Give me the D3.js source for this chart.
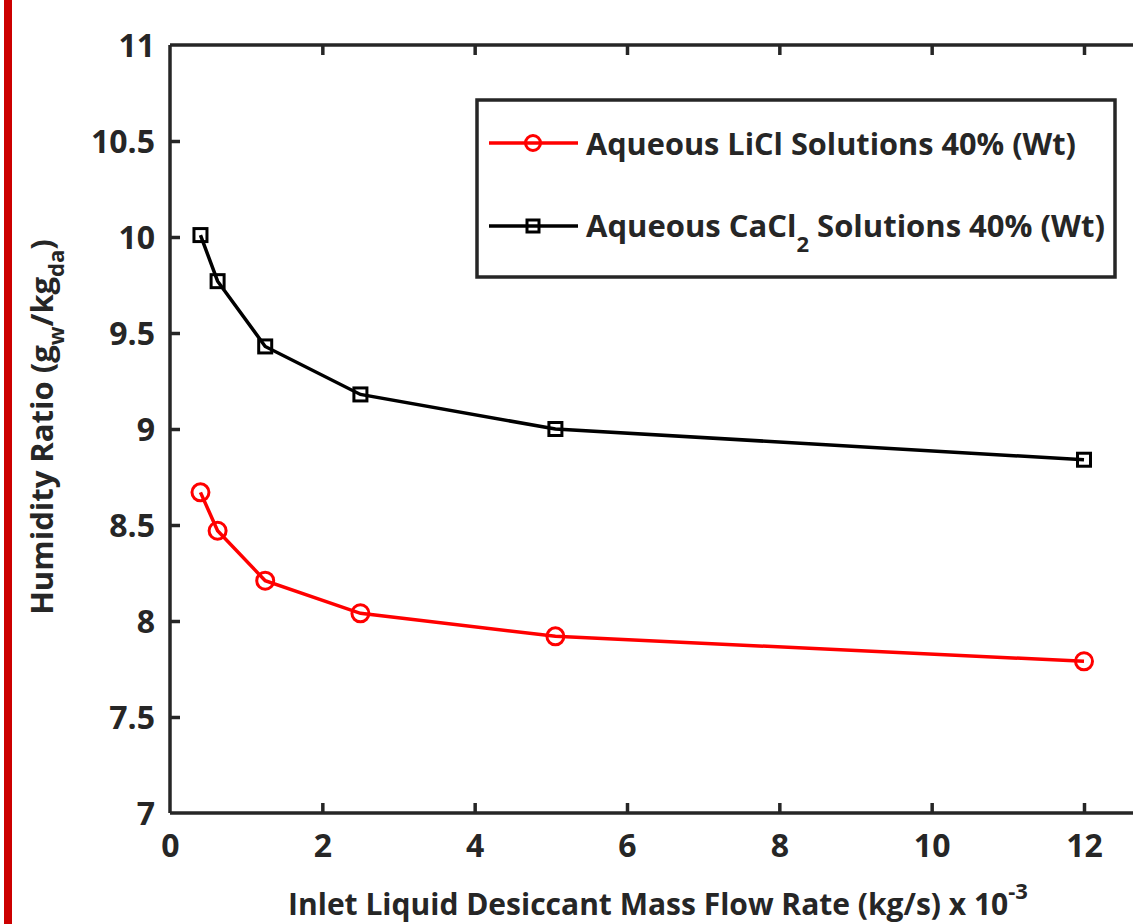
<!DOCTYPE html>
<html><head><meta charset="utf-8">
<script src="https://cdn.jsdelivr.net/npm/d3@7"></script>
<style>
html,body{margin:0;padding:0;background:#fff;overflow:hidden;}
text{font-family:"Open Sans",sans-serif;font-weight:700;fill:#262626;}
</style></head>
<body>
<svg id="chart" width="1133" height="924"></svg>
<script>
const flowRates = [0.4, 0.625, 1.25, 2.5, 5.06, 12];
const liclValues = [8.67, 8.47, 8.21, 8.04, 7.92, 7.79];
const cacl2Values = [10.01, 9.77, 9.43, 9.18, 9.00, 8.84];
const xTicks = [0, 2, 4, 6, 8, 10, 12];
const yTicks = [7, 7.5, 8, 8.5, 9, 9.5, 10, 10.5, 11];
const seriesNames = ["Aqueous LiCl Solutions 40% (Wt)", "Aqueous CaCl", "2", " Solutions 40% (Wt)"];

const svg = d3.select("#chart");
const axisColor = "#262626";
const x = d3.scaleLinear().domain([0, 13]).range([170, 170 + (1084 - 170) * 13 / 12]);
const y = d3.scaleLinear().domain([7, 11]).range([813, 45]);

// red border line
svg.append("rect").attr("x", 4).attr("y", 0).attr("width", 8).attr("height", 924).attr("fill", "#cc0000");

// axes
const tickLen = 10;
const gx = svg.append("g").attr("transform", `translate(0,${y(7)})`)
  .call(d3.axisBottom(x).tickValues(xTicks).tickSize(-tickLen).tickPadding(21).tickFormat(d3.format("d")));
const gxTop = svg.append("g").attr("transform", `translate(0,${y(11)})`)
  .call(d3.axisTop(x).tickValues(xTicks).tickSize(-tickLen).tickFormat(""));
const gy = svg.append("g").attr("transform", `translate(${x(0)},0)`)
  .call(d3.axisLeft(y).tickValues(yTicks).tickSize(-tickLen).tickPadding(15).tickFormat(d => d));
[gx, gxTop, gy].forEach(g => {
  g.select(".domain").attr("stroke", axisColor).attr("stroke-width", 3.5);
  g.selectAll(".tick line").attr("stroke", axisColor).attr("stroke-width", 3.5);
  g.selectAll(".tick text").style("font-size", "32px").attr("fill", axisColor);
});
gx.select(".domain").attr("d", `M${x(0)},0H${x(13)}`);
gxTop.select(".domain").attr("d", `M${x(0)},0H${x(13)}`);
gy.select(".domain").attr("d", `M0,${y(7)}V${y(11)}`);
gy.selectAll(".tick text").attr("dy", "0.36em");
gx.selectAll(".tick text").attr("dy", "0.72em");
gx.selectAll(".tick").filter(d => d === 0).select("line").remove();
gxTop.selectAll(".tick").filter(d => d === 0).select("line").remove();
gy.selectAll(".tick").filter(d => d === 7 || d === 11).select("line").remove();

// lines
const line = d3.line().x(d => x(d[0])).y(d => y(d[1]));
const licl = flowRates.map((f, i) => [f, liclValues[i]]);
const cacl = flowRates.map((f, i) => [f, cacl2Values[i]]);

svg.append("path").datum(cacl).attr("d", line).attr("fill", "none").attr("stroke", "#000").attr("stroke-width", 3.5);
svg.selectAll(".sq").data(cacl).enter().append("rect")
  .attr("x", d => x(d[0]) - 6.5).attr("y", d => y(d[1]) - 6.5).attr("width", 13).attr("height", 13)
  .attr("fill", "none").attr("stroke", "#000").attr("stroke-width", 3);

svg.append("path").datum(licl).attr("d", line).attr("fill", "none").attr("stroke", "#ff0000").attr("stroke-width", 3.5);
svg.selectAll(".ci").data(licl).enter().append("circle")
  .attr("cx", d => x(d[0])).attr("cy", d => y(d[1])).attr("r", 8.5)
  .attr("fill", "none").attr("stroke", "#ff0000").attr("stroke-width", 3);

// legend
const lg = svg.append("g");
lg.append("rect").attr("x", 477).attr("y", 100).attr("width", 638).attr("height", 177)
  .attr("fill", "#fff").attr("stroke", axisColor).attr("stroke-width", 3.5);
lg.append("line").attr("x1", 489).attr("x2", 578).attr("y1", 143).attr("y2", 143).attr("stroke", "#ff0000").attr("stroke-width", 3.5);
lg.append("circle").attr("cx", 533).attr("cy", 143).attr("r", 7.5).attr("fill", "none").attr("stroke", "#ff0000").attr("stroke-width", 3);
lg.append("line").attr("x1", 489).attr("x2", 578).attr("y1", 226).attr("y2", 226).attr("stroke", "#000").attr("stroke-width", 3.5);
lg.append("rect").attr("x", 527).attr("y", 220).attr("width", 12).attr("height", 12).attr("fill", "none").attr("stroke", "#000").attr("stroke-width", 3);
lg.append("text").attr("x", 586).attr("y", 155).style("font-size", "31px").attr("fill", "#000")
  .attr("textLength", 490).attr("lengthAdjust", "spacingAndGlyphs").text(seriesNames[0]);
const t2 = lg.append("text").attr("x", 586).attr("y", 237).style("font-size", "31px").attr("fill", "#000");
t2.append("tspan").text(seriesNames[1]);
t2.append("tspan").attr("dy", 15).style("font-size", "22px").text(seriesNames[2]);
t2.append("tspan").attr("dy", -15).text(seriesNames[3]);

// axis titles
const xt = svg.append("text").attr("x", 658).attr("y", 915).attr("text-anchor", "middle").style("font-size", "30px").attr("fill", axisColor);
xt.append("tspan").text("Inlet Liquid Desiccant Mass Flow Rate (kg/s) x 10");
xt.append("tspan").attr("dy", -16).style("font-size", "22px").text("-3");

const yt = svg.append("text").attr("transform", "translate(53,427) rotate(-90)").attr("text-anchor", "middle").style("font-size", "31px").attr("fill", axisColor);
yt.append("tspan").text("Humidity Ratio (g");
yt.append("tspan").attr("dy", 11).style("font-size", "22px").text("w");
yt.append("tspan").attr("dy", -11).text("/kg");
yt.append("tspan").attr("dy", 11).style("font-size", "22px").text("da");
yt.append("tspan").attr("dy", -11).text(")");
</script>
</body></html>
